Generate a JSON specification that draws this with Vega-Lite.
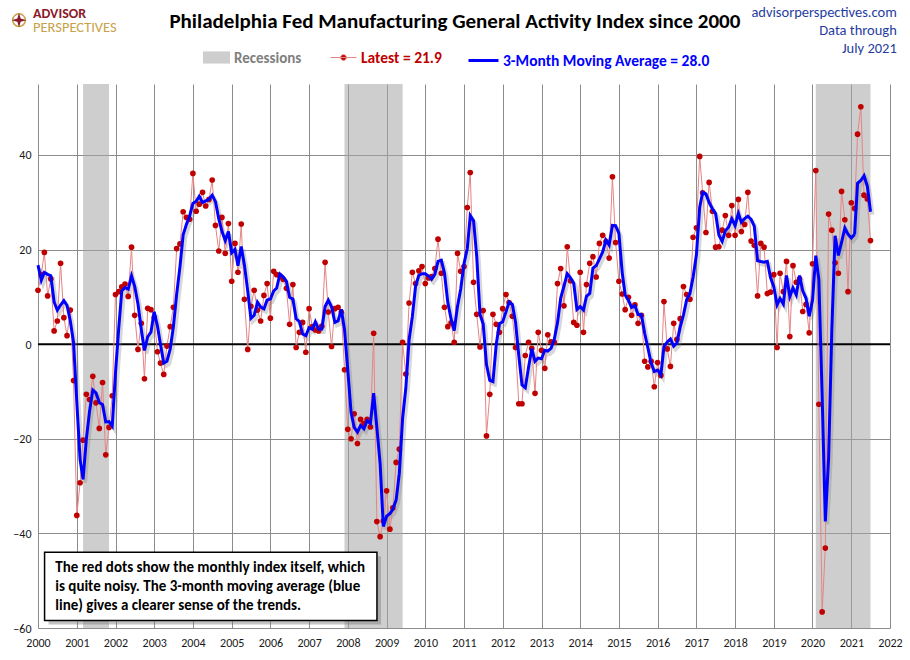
{
  "$schema": "https://vega.github.io/schema/vega-lite/v6.json",
  "autosize": {"type": "none"},
  "width": 852,
  "height": 544,
  "padding": {"left": 38, "top": 84, "right": 20, "bottom": 32},
  "background": "white",
  "config": {
    "font": "Carlito, Lato, sans-serif",
    "view": {"stroke": null},
    "axis": {"grid": true, "gridColor": "#8c8c8c", "gridWidth": 1, "domain": false, "ticks": false, "labelColor": "#1a1a1a", "labelFontSize": 12, "labelFont": "Carlito, Lato, sans-serif", "title": null}
  },
  "datasets": {
    "pf": [
      {"d":"1999-11-01","v":24.3},{"d":"1999-12-01","v":14.4},
      {"d":"2000-01-01","v":11.4},{"d":"2000-02-01","v":14.7},{"d":"2000-03-01","v":19.4},{"d":"2000-04-01","v":10.2},{"d":"2000-05-01","v":13.8},{"d":"2000-06-01","v":2.8},{"d":"2000-07-01","v":4.9},{"d":"2000-08-01","v":17.1},{"d":"2000-09-01","v":5.6},{"d":"2000-10-01","v":1.8},{"d":"2000-11-01","v":7.2},{"d":"2000-12-01","v":-7.7},
      {"d":"2001-01-01","v":-36.2},{"d":"2001-02-01","v":-29.3},{"d":"2001-03-01","v":-20.3},{"d":"2001-04-01","v":-10.6},{"d":"2001-05-01","v":-11.7},{"d":"2001-06-01","v":-6.8},{"d":"2001-07-01","v":-12.4},{"d":"2001-08-01","v":-17.8},{"d":"2001-09-01","v":-8.1},{"d":"2001-10-01","v":-23.4},{"d":"2001-11-01","v":-17.6},{"d":"2001-12-01","v":-10.9},
      {"d":"2002-01-01","v":10.5},{"d":"2002-02-01","v":11.1},{"d":"2002-03-01","v":12.1},{"d":"2002-04-01","v":12.7},{"d":"2002-05-01","v":10.1},{"d":"2002-06-01","v":20.5},{"d":"2002-07-01","v":6.1},{"d":"2002-08-01","v":-1.1},{"d":"2002-09-01","v":4.4},{"d":"2002-10-01","v":-7.3},{"d":"2002-11-01","v":7.6},{"d":"2002-12-01","v":7.3},
      {"d":"2003-01-01","v":5.6},{"d":"2003-02-01","v":-1.6},{"d":"2003-03-01","v":-4.0},{"d":"2003-04-01","v":-6.4},{"d":"2003-05-01","v":-0.4},{"d":"2003-06-01","v":3.7},{"d":"2003-07-01","v":7.8},{"d":"2003-08-01","v":20.2},{"d":"2003-09-01","v":21.2},{"d":"2003-10-01","v":28.0},{"d":"2003-11-01","v":26.8},{"d":"2003-12-01","v":26.4},
      {"d":"2004-01-01","v":36.1},{"d":"2004-02-01","v":28.1},{"d":"2004-03-01","v":29.6},{"d":"2004-04-01","v":32.1},{"d":"2004-05-01","v":29.2},{"d":"2004-06-01","v":30.6},{"d":"2004-07-01","v":34.7},{"d":"2004-08-01","v":25.1},{"d":"2004-09-01","v":19.7},{"d":"2004-10-01","v":26.8},{"d":"2004-11-01","v":19.2},{"d":"2004-12-01","v":25.5},
      {"d":"2005-01-01","v":13.3},{"d":"2005-02-01","v":21.3},{"d":"2005-03-01","v":15.2},{"d":"2005-04-01","v":25.4},{"d":"2005-05-01","v":9.5},{"d":"2005-06-01","v":-1.1},{"d":"2005-07-01","v":8.0},{"d":"2005-08-01","v":11.4},{"d":"2005-09-01","v":7.2},{"d":"2005-10-01","v":4.9},{"d":"2005-11-01","v":10.3},{"d":"2005-12-01","v":12.8},
      {"d":"2006-01-01","v":5.5},{"d":"2006-02-01","v":15.4},{"d":"2006-03-01","v":14.7},{"d":"2006-04-01","v":14.4},{"d":"2006-05-01","v":13.7},{"d":"2006-06-01","v":11.8},{"d":"2006-07-01","v":4.2},{"d":"2006-08-01","v":12.6},{"d":"2006-09-01","v":-0.7},{"d":"2006-10-01","v":2.5},{"d":"2006-11-01","v":4.6},{"d":"2006-12-01","v":-1.7},
      {"d":"2007-01-01","v":7.5},{"d":"2007-02-01","v":3.7},{"d":"2007-03-01","v":3.0},{"d":"2007-04-01","v":2.8},{"d":"2007-05-01","v":3.8},{"d":"2007-06-01","v":17.3},{"d":"2007-07-01","v":6.8},{"d":"2007-08-01","v":-0.5},{"d":"2007-09-01","v":7.5},{"d":"2007-10-01","v":7.8},{"d":"2007-11-01","v":6.8},{"d":"2007-12-01","v":-5.4},
      {"d":"2008-01-01","v":-18.0},{"d":"2008-02-01","v":-20.0},{"d":"2008-03-01","v":-14.7},{"d":"2008-04-01","v":-21.0},{"d":"2008-05-01","v":-15.9},{"d":"2008-06-01","v":-16.8},{"d":"2008-07-01","v":-15.9},{"d":"2008-08-01","v":-17.5},{"d":"2008-09-01","v":2.3},{"d":"2008-10-01","v":-37.5},{"d":"2008-11-01","v":-40.7},{"d":"2008-12-01","v":-37.4},
      {"d":"2009-01-01","v":-31.0},{"d":"2009-02-01","v":-39.1},{"d":"2009-03-01","v":-34.6},{"d":"2009-04-01","v":-25.0},{"d":"2009-05-01","v":-22.2},{"d":"2009-06-01","v":0.4},{"d":"2009-07-01","v":-6.3},{"d":"2009-08-01","v":8.7},{"d":"2009-09-01","v":15.2},{"d":"2009-10-01","v":12.8},{"d":"2009-11-01","v":15.5},{"d":"2009-12-01","v":16.4},
      {"d":"2010-01-01","v":12.8},{"d":"2010-02-01","v":14.0},{"d":"2010-03-01","v":14.3},{"d":"2010-04-01","v":16.0},{"d":"2010-05-01","v":22.2},{"d":"2010-06-01","v":15.0},{"d":"2010-07-01","v":7.8},{"d":"2010-08-01","v":3.7},{"d":"2010-09-01","v":4.5},{"d":"2010-10-01","v":0.4},{"d":"2010-11-01","v":19.2},{"d":"2010-12-01","v":15.4},
      {"d":"2011-01-01","v":16.4},{"d":"2011-02-01","v":28.9},{"d":"2011-03-01","v":36.3},{"d":"2011-04-01","v":13.1},{"d":"2011-05-01","v":6.3},{"d":"2011-06-01","v":-0.6},{"d":"2011-07-01","v":7.1},{"d":"2011-08-01","v":-19.4},{"d":"2011-09-01","v":-10.6},{"d":"2011-10-01","v":6.3},{"d":"2011-11-01","v":4.2},{"d":"2011-12-01","v":2.5},
      {"d":"2012-01-01","v":7.5},{"d":"2012-02-01","v":10.5},{"d":"2012-03-01","v":8.8},{"d":"2012-04-01","v":5.9},{"d":"2012-05-01","v":-0.7},{"d":"2012-06-01","v":-12.6},{"d":"2012-07-01","v":-12.6},{"d":"2012-08-01","v":-2.4},{"d":"2012-09-01","v":0.4},{"d":"2012-10-01","v":-0.9},{"d":"2012-11-01","v":-10.4},{"d":"2012-12-01","v":2.5},
      {"d":"2013-01-01","v":-1.3},{"d":"2013-02-01","v":-5.1},{"d":"2013-03-01","v":2.0},{"d":"2013-04-01","v":0.5},{"d":"2013-05-01","v":0.4},{"d":"2013-06-01","v":12.8},{"d":"2013-07-01","v":16.0},{"d":"2013-08-01","v":8.1},{"d":"2013-09-01","v":20.6},{"d":"2013-10-01","v":13.4},{"d":"2013-11-01","v":4.6},{"d":"2013-12-01","v":4.0},
      {"d":"2014-01-01","v":15.2},{"d":"2014-02-01","v":2.5},{"d":"2014-03-01","v":12.6},{"d":"2014-04-01","v":17.1},{"d":"2014-05-01","v":18.5},{"d":"2014-06-01","v":14.2},{"d":"2014-07-01","v":21.3},{"d":"2014-08-01","v":23.0},{"d":"2014-09-01","v":21.7},{"d":"2014-10-01","v":18.2},{"d":"2014-11-01","v":35.4},{"d":"2014-12-01","v":21.5},
      {"d":"2015-01-01","v":13.3},{"d":"2015-02-01","v":10.6},{"d":"2015-03-01","v":7.3},{"d":"2015-04-01","v":9.9},{"d":"2015-05-01","v":6.1},{"d":"2015-06-01","v":8.3},{"d":"2015-07-01","v":4.4},{"d":"2015-08-01","v":6.1},{"d":"2015-09-01","v":-3.6},{"d":"2015-10-01","v":-4.8},{"d":"2015-11-01","v":-3.6},{"d":"2015-12-01","v":-9.0},
      {"d":"2016-01-01","v":-3.9},{"d":"2016-02-01","v":-6.6},{"d":"2016-03-01","v":9.0},{"d":"2016-04-01","v":-1.0},{"d":"2016-05-01","v":-4.7},{"d":"2016-06-01","v":4.4},{"d":"2016-07-01","v":1.0},{"d":"2016-08-01","v":5.4},{"d":"2016-09-01","v":12.2},{"d":"2016-10-01","v":10.5},{"d":"2016-11-01","v":9.5},{"d":"2016-12-01","v":22.6},
      {"d":"2017-01-01","v":24.6},{"d":"2017-02-01","v":39.7},{"d":"2017-03-01","v":32.0},{"d":"2017-04-01","v":23.6},{"d":"2017-05-01","v":34.2},{"d":"2017-06-01","v":28.1},{"d":"2017-07-01","v":20.5},{"d":"2017-08-01","v":20.6},{"d":"2017-09-01","v":24.1},{"d":"2017-10-01","v":27.2},{"d":"2017-11-01","v":23.0},{"d":"2017-12-01","v":29.3},
      {"d":"2018-01-01","v":23.0},{"d":"2018-02-01","v":30.6},{"d":"2018-03-01","v":23.8},{"d":"2018-04-01","v":25.3},{"d":"2018-05-01","v":32.1},{"d":"2018-06-01","v":21.8},{"d":"2018-07-01","v":20.9},{"d":"2018-08-01","v":10.2},{"d":"2018-09-01","v":21.3},{"d":"2018-10-01","v":20.5},{"d":"2018-11-01","v":10.7},{"d":"2018-12-01","v":11.0},
      {"d":"2019-01-01","v":14.7},{"d":"2019-02-01","v":-0.7},{"d":"2019-03-01","v":15.0},{"d":"2019-04-01","v":11.1},{"d":"2019-05-01","v":17.5},{"d":"2019-06-01","v":1.6},{"d":"2019-07-01","v":16.6},{"d":"2019-08-01","v":13.1},{"d":"2019-09-01","v":13.8},{"d":"2019-10-01","v":6.9},{"d":"2019-11-01","v":8.4},{"d":"2019-12-01","v":2.4},
      {"d":"2020-01-01","v":17.0},{"d":"2020-02-01","v":36.7},{"d":"2020-03-01","v":-12.7},{"d":"2020-04-01","v":-56.6},{"d":"2020-05-01","v":-43.1},{"d":"2020-06-01","v":27.5},{"d":"2020-07-01","v":24.1},{"d":"2020-08-01","v":17.2},{"d":"2020-09-01","v":15.0},{"d":"2020-10-01","v":32.3},{"d":"2020-11-01","v":26.3},{"d":"2020-12-01","v":11.1},
      {"d":"2021-01-01","v":29.9},{"d":"2021-02-01","v":28.7},{"d":"2021-03-01","v":44.4},{"d":"2021-04-01","v":50.2},{"d":"2021-05-01","v":31.5},{"d":"2021-06-01","v":30.7},{"d":"2021-07-01","v":21.9}
    ],
    "ma21": [
      {"d":"2021-02-01","ma":23.2},{"d":"2021-03-01","ma":34.0},{"d":"2021-04-01","ma":34.6},{"d":"2021-05-01","ma":35.6},{"d":"2021-06-01","ma":33.4},{"d":"2021-07-01","ma":28.0}
    ],
    "recessions": [
      {"start":"2001-03-01","end":"2001-11-01"},
      {"start":"2007-12-01","end":"2009-06-01"},
      {"start":"2020-02-01","end":"2021-07-01"}
    ]
  },
  "layer": [
    {
      "data": {"name": "recessions"},
      "mark": {"type": "rect", "opacity": 0.55},
      "encoding": {
        "x": {"field": "start", "type": "temporal", "scale": {"type": "utc", "domain": [946684800000, 1640995200000]}, "axis": {"format": "%Y", "tickCount": {"interval": "year", "step": 1}, "labelOverlap": false, "labelFlush": false, "labelPadding": 9}},
        "x2": {"field": "end"},
        "fill": {"datum": "Recessions", "scale": {"range": ["#a6a6a6"]}, "legend": {"orient": "none", "legendX": 165, "legendY": -40, "title": null, "padding": 0, "symbolType": "M-1,-0.45H1V0.45H-1Z", "symbolSize": 729, "symbolStrokeWidth": 0, "symbolOpacity": 0.55, "labelColor": "#808080", "labelFontSize": 15, "labelFontWeight": "bold", "labelOffset": 4, "labelLimit": 400}}
      }
    },
    {
      "data": {"values": [{}]},
      "mark": {"type": "rule", "color": "#000000", "strokeWidth": 2},
      "encoding": {"y": {"datum": 0, "type": "quantitative", "scale": {"domain": [-60, 55], "nice": false, "zero": false}, "axis": {"values": [-60, -40, -20, 0, 20, 40], "labelPadding": 7}}}
    },
    {
      "data": {"name": "pf"},
      "transform": [
        {"window": [{"op": "mean", "field": "v", "as": "ma"}], "frame": [-2, 0], "sort": [{"field": "d"}]},
        {"filter": "time(datum.d) >= utc(2000,0,1) && time(datum.d) <= utc(2021,1,1)"}
      ],
      "mark": {"type": "line", "stroke": "#7a7a7a", "strokeWidth": 4, "opacity": 0.3, "xOffset": 2, "yOffset": 3},
      "encoding": {
        "x": {"field": "d", "type": "temporal", "scale": {"type": "utc", "domain": [946684800000, 1640995200000]}},
        "y": {"field": "ma", "type": "quantitative", "scale": {"domain": [-60, 55], "nice": false, "zero": false}}
      }
    },
    {
      "data": {"name": "ma21"},
      "mark": {"type": "line", "stroke": "#7a7a7a", "strokeWidth": 4, "opacity": 0.3, "xOffset": 2, "yOffset": 3},
      "encoding": {
        "x": {"field": "d", "type": "temporal", "scale": {"type": "utc", "domain": [946684800000, 1640995200000]}},
        "y": {"field": "ma", "type": "quantitative", "scale": {"domain": [-60, 55], "nice": false, "zero": false}}
      }
    },
    {
      "data": {"name": "pf"},
      "transform": [{"filter": "time(datum.d) >= utc(2000,0,1)"}],
      "mark": {"type": "line", "strokeWidth": 1},
      "encoding": {
        "x": {"field": "d", "type": "temporal", "scale": {"type": "utc", "domain": [946684800000, 1640995200000]}},
        "y": {"field": "v", "type": "quantitative", "scale": {"domain": [-60, 55], "nice": false, "zero": false}},
        "stroke": {"datum": "Latest = 21.9", "scale": {"range": ["#e58585"]}, "legend": {"orient": "none", "legendX": 292, "legendY": -40, "title": null, "padding": 0, "symbolType": "M-1,0H1M-0.22,0A0.22,0.22,0,1,1,0.22,0A0.22,0.22,0,1,1,-0.22,0", "symbolSize": 676, "symbolFillColor": "#c00000", "symbolStrokeWidth": 1, "labelColor": "#c00000", "labelFontSize": 15.5, "labelFontWeight": "bold", "labelOffset": 4, "labelLimit": 400}}
      }
    },
    {
      "data": {"name": "pf"},
      "transform": [{"filter": "time(datum.d) >= utc(2000,0,1)"}],
      "mark": {"type": "circle", "color": "#c00000", "size": 32, "opacity": 1},
      "encoding": {
        "x": {"field": "d", "type": "temporal", "scale": {"type": "utc", "domain": [946684800000, 1640995200000]}},
        "y": {"field": "v", "type": "quantitative", "scale": {"domain": [-60, 55], "nice": false, "zero": false}}
      }
    },
    {
      "data": {"name": "pf"},
      "transform": [
        {"window": [{"op": "mean", "field": "v", "as": "ma"}], "frame": [-2, 0], "sort": [{"field": "d"}]},
        {"filter": "time(datum.d) >= utc(2000,0,1) && time(datum.d) <= utc(2021,1,1)"}
      ],
      "mark": {"type": "line", "strokeWidth": 3},
      "encoding": {
        "x": {"field": "d", "type": "temporal", "scale": {"type": "utc", "domain": [946684800000, 1640995200000]}},
        "y": {"field": "ma", "type": "quantitative", "scale": {"domain": [-60, 55], "nice": false, "zero": false}},
        "color": {"datum": "3-Month Moving Average = 28.0", "scale": {"range": ["#0000ff"]}, "legend": {"orient": "none", "legendX": 429, "legendY": -40, "title": null, "padding": 0, "symbolType": "stroke", "symbolSize": 900, "symbolStrokeWidth": 3, "labelColor": "#0000ff", "labelFontSize": 15.5, "labelFontWeight": "bold", "labelOffset": 3, "labelLimit": 400}}
      }
    },
    {
      "data": {"name": "ma21"},
      "mark": {"type": "line", "strokeWidth": 3},
      "encoding": {
        "x": {"field": "d", "type": "temporal", "scale": {"type": "utc", "domain": [946684800000, 1640995200000]}},
        "y": {"field": "ma", "type": "quantitative", "scale": {"domain": [-60, 55], "nice": false, "zero": false}},
        "color": {"datum": "3-Month Moving Average = 28.0"}
      }
    },
    {
      "data": {"values": [{}]},
      "mark": {"type": "rect", "fill": "#7a7a7a", "opacity": 0.45, "xOffset": 4, "x2Offset": 4, "yOffset": 4, "y2Offset": 4},
      "encoding": {
        "x": {"datum": 952041600000, "type": "temporal", "scale": {"type": "utc"}},
        "x2": {"datum": 1222905600000},
        "y": {"datum": -44.0, "type": "quantitative"},
        "y2": {"datum": -58.4}
      }
    },
    {
      "data": {"values": [{}]},
      "mark": {"type": "rect", "fill": "#ffffff", "stroke": "#000000", "strokeWidth": 1.5},
      "encoding": {
        "x": {"datum": 952041600000, "type": "temporal", "scale": {"type": "utc"}},
        "x2": {"datum": 1222905600000},
        "y": {"datum": -44.0, "type": "quantitative"},
        "y2": {"datum": -58.4}
      }
    },
    {
      "data": {"values": [{}]},
      "mark": {"type": "text", "align": "left", "baseline": "top", "fontSize": 15, "fontWeight": "bold", "lineHeight": 19, "color": "#000000"},
      "encoding": {
        "x": {"datum": 960768000000, "type": "temporal", "scale": {"type": "utc"}},
        "y": {"datum": -45.6, "type": "quantitative"},
        "text": {"value": ["The red dots show the monthly  index itself, which", "is quite noisy. The 3-month moving average (blue", "line) gives a clearer sense of the trends."]}
      }
    },
    {
      "data": {"values": [{}]},
      "mark": {"type": "text", "align": "center", "baseline": "middle", "fontSize": 21, "fontWeight": "bold", "color": "#000000"},
      "encoding": {
        "x": {"datum": 1286409600000, "type": "temporal", "scale": {"type": "utc"}},
        "y": {"datum": 68.1, "type": "quantitative"},
        "text": {"value": "Philadelphia  Fed Manufacturing  General Activity  Index since 2000"}
      }
    },
    {
      "data": {"values": [{}]},
      "mark": {"type": "text", "align": "right", "baseline": "top", "fontSize": 14.5, "lineHeight": 18, "color": "#1f3d9e"},
      "encoding": {
        "x": {"datum": 1646524800000, "type": "temporal", "scale": {"type": "utc"}},
        "y": {"datum": 71.4, "type": "quantitative"},
        "text": {"value": ["advisorperspectives.com", "Data through", "July 2021"]}
      }
    },
    {
      "data": {"values": [{}]},
      "mark": {"type": "text", "align": "left", "baseline": "middle", "fontSize": 14, "fontWeight": "bold", "color": "#8b1a2b"},
      "encoding": {
        "x": {"datum": 942624000000, "type": "temporal", "scale": {"type": "utc"}},
        "y": {"datum": 69.9, "type": "quantitative"},
        "text": {"value": "ADVISOR"}
      }
    },
    {
      "data": {"values": [{}]},
      "mark": {"type": "text", "align": "left", "baseline": "middle", "fontSize": 14.5, "color": "#c8a24a"},
      "encoding": {
        "x": {"datum": 942624000000, "type": "temporal", "scale": {"type": "utc"}},
        "y": {"datum": 66.9, "type": "quantitative"},
        "text": {"value": "PERSPECTIVES"}
      }
    },
    {
      "data": {"values": [{}]},
      "mark": {"type": "point", "shape": "circle", "size": 160, "filled": false, "stroke": "#c8a24a", "strokeWidth": 1.5, "opacity": 1},
      "encoding": {
        "x": {"datum": 931219200000, "type": "temporal", "scale": {"type": "utc"}},
        "y": {"datum": 68.5, "type": "quantitative"}
      }
    },
    {
      "data": {"values": [{}]},
      "mark": {"type": "point", "shape": "M0,-1L0.22,-0.22L1,0L0.22,0.22L0,1L-0.22,0.22L-1,0L-0.22,-0.22Z", "size": 220, "filled": true, "fill": "#8b1a2b", "opacity": 1},
      "encoding": {
        "x": {"datum": 931219200000, "type": "temporal", "scale": {"type": "utc"}},
        "y": {"datum": 68.5, "type": "quantitative"}
      }
    }
  ]
}
